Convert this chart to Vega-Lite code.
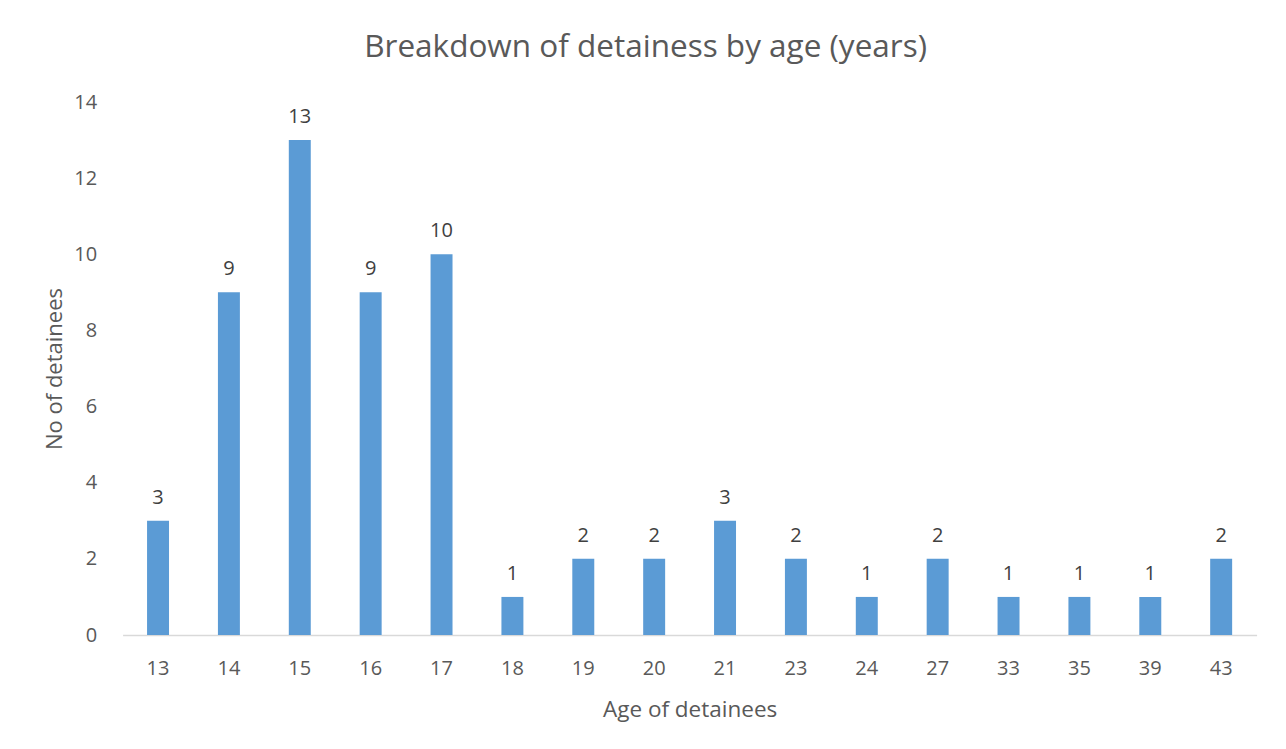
{
  "$schema": "https://vega.github.io/schema/vega-lite/v6.json",
  "autosize": {"type": "none"},
  "width": 1134,
  "height": 533,
  "padding": {"left": 122.6, "top": 102, "right": 29.4, "bottom": 114},
  "background": "white",
  "title": {
    "text": "Breakdown of detainess by age (years)",
    "font": "Open Sans",
    "fontSize": 31.5,
    "fontWeight": "normal",
    "color": "#595959",
    "anchor": "middle",
    "dx": -44,
    "offset": 29
  },
  "config": {
    "view": {"stroke": null},
    "font": "Open Sans"
  },
  "data": {
    "values": [
      {"age": "13", "count": 3},
      {"age": "14", "count": 9},
      {"age": "15", "count": 13},
      {"age": "16", "count": 9},
      {"age": "17", "count": 10},
      {"age": "18", "count": 1},
      {"age": "19", "count": 2},
      {"age": "20", "count": 2},
      {"age": "21", "count": 3},
      {"age": "23", "count": 2},
      {"age": "24", "count": 1},
      {"age": "27", "count": 2},
      {"age": "33", "count": 1},
      {"age": "35", "count": 1},
      {"age": "39", "count": 1},
      {"age": "43", "count": 2}
    ]
  },
  "encoding": {
    "x": {
      "field": "age",
      "type": "ordinal",
      "sort": null,
      "scale": {"paddingInner": 0.69, "paddingOuter": 0.345},
      "axis": {
        "title": "Age of detainees",
        "titleFont": "Open Sans",
        "titleFontSize": 22.5,
        "titleFontWeight": "normal",
        "titleColor": "#595959",
        "titlePadding": 20,
        "labelFont": "Open Sans",
        "labelFontSize": 20,
        "labelColor": "#595959",
        "labelAngle": 0,
        "labelPadding": 23,
        "ticks": false,
        "domainColor": "#D9D9D9",
        "domainWidth": 1.5,
        "grid": false
      }
    },
    "y": {
      "field": "count",
      "type": "quantitative",
      "scale": {"domain": [0, 14]},
      "axis": {
        "title": "No of detainees",
        "titleFont": "Open Sans",
        "titleFontSize": 22,
        "titleFontWeight": "normal",
        "titleColor": "#595959",
        "titlePadding": 7,
        "labelFont": "Open Sans",
        "labelFontSize": 20,
        "labelColor": "#595959",
        "labelPadding": 26,
        "values": [0, 2, 4, 6, 8, 10, 12, 14],
        "ticks": false,
        "domain": false,
        "grid": false
      }
    }
  },
  "layer": [
    {"mark": {"type": "bar", "color": "#5B9BD5"}},
    {
      "mark": {
        "type": "text",
        "baseline": "alphabetic",
        "dy": -17,
        "font": "Open Sans",
        "fontSize": 20,
        "color": "#404040"
      },
      "encoding": {"text": {"field": "count", "type": "quantitative"}}
    }
  ]
}
